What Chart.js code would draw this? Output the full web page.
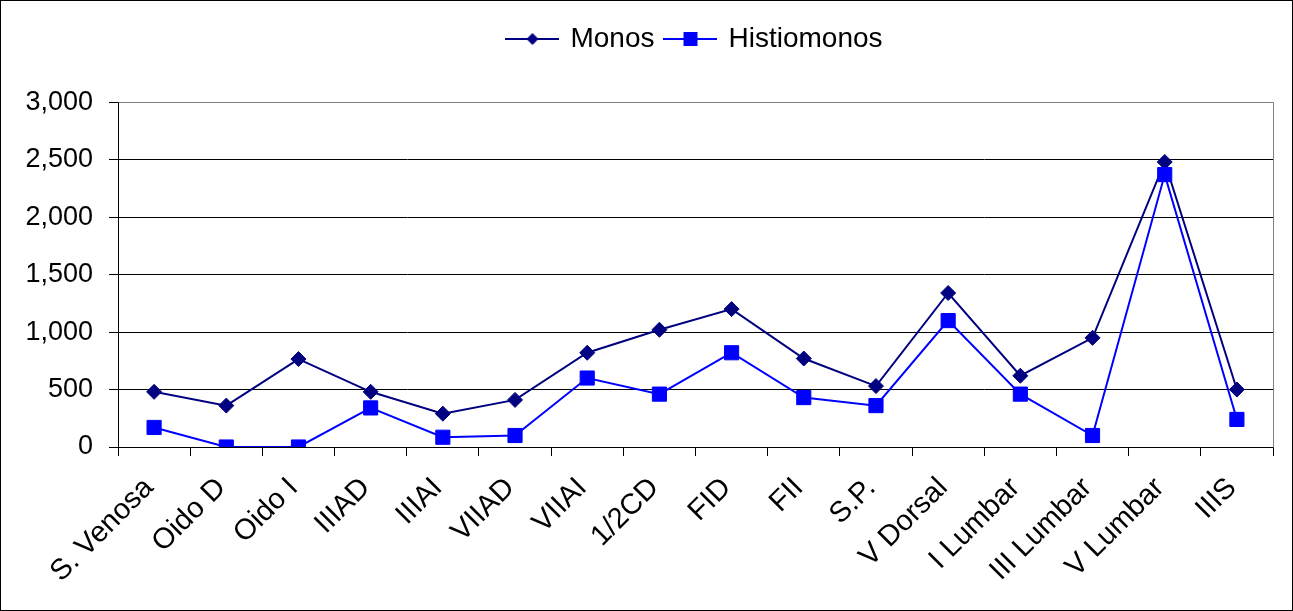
<!DOCTYPE html>
<html>
<head>
<meta charset="utf-8">
<title>Monos / Histiomonos</title>
<script src="https://cdn.jsdelivr.net/npm/chart.js@4.4.1/dist/chart.umd.min.js"></script>
<style>
  html, body { margin: 0; padding: 0; background: #fff; }
  canvas { display: block; }
</style>
</head>
<body>
<canvas id="chart" width="1293" height="611"></canvas>
<script>
/* Monos vs Histiomonos por localización */

const categories = [
  'S. Venosa', 'Oido D', 'Oido I', 'IIIAD', 'IIIAI', 'VIIAD', 'VIIAI', '1/2CD',
  'FID', 'FII', 'S.P.', 'V Dorsal', 'I Lumbar', 'III Lumbar', 'V Lumbar', 'IIIS',
];
const monos = [480, 360, 765, 480, 290, 410, 820, 1020, 1200, 770, 530, 1340, 620, 950, 2480, 500];
const histiomonos = [170, 0, 0, 340, 85, 100, 600, 460, 820, 430, 360, 1100, 460, 100, 2370, 240];
const yTicks = [0, 500, 1000, 1500, 2000, 2500, 3000];

const FONT = "'Liberation Sans', Arial, sans-serif";
const NAVY = '#000080';
const BLUE = '#0000FF';

// legend swatch: short line with the marker in the middle
function legendSwatch(color, shape) {
  const c = document.createElement('canvas');
  c.width = 54;
  c.height = 16;
  const g = c.getContext('2d');
  g.strokeStyle = color;
  g.fillStyle = color;
  g.lineWidth = 2;
  g.beginPath();
  g.moveTo(0, 8);
  g.lineTo(54, 8);
  g.stroke();
  g.beginPath();
  if (shape === 'diamond') {
    g.moveTo(27, 2); g.lineTo(33, 8); g.lineTo(27, 14); g.lineTo(21, 8);
  } else {
    g.rect(20, 1, 14, 14);
  }
  g.closePath();
  g.fill();
  return c;
}

const swatches = [legendSwatch(NAVY, 'diamond'), legendSwatch(BLUE, 'square')];

const framePlugin = {
  id: 'frame',
  beforeDatasetsDraw(chart) {
    const { ctx, chartArea: a } = chart;
    ctx.save();
    ctx.strokeStyle = '#808080';
    ctx.lineWidth = 1;
    ctx.beginPath();
    ctx.moveTo(Math.round(a.left) + 0.5, Math.round(a.top) + 0.5);
    ctx.lineTo(Math.round(a.right) + 0.5, Math.round(a.top) + 0.5);
    ctx.lineTo(Math.round(a.right) + 0.5, Math.round(a.bottom) + 0.5);
    ctx.stroke();
    ctx.restore();
  },
  afterDraw(chart) {
    const { ctx, width, height } = chart;
    ctx.save();
    ctx.strokeStyle = '#000';
    ctx.lineWidth = 1;
    ctx.strokeRect(0.5, 0.5, width - 1, height - 1);
    ctx.restore();
  },
};

new Chart(document.getElementById('chart'), {
  type: 'line',
  data: {
    labels: categories,
    datasets: [
      {
        label: 'Monos',
        data: monos,
        borderColor: NAVY,
        backgroundColor: NAVY,
        borderWidth: 2,
        pointStyle: 'rectRot',
        pointRadius: 7.5,
        pointBorderWidth: 1,
        tension: 0,
        order: 1,
      },
      {
        label: 'Histiomonos',
        data: histiomonos,
        borderColor: BLUE,
        backgroundColor: BLUE,
        borderWidth: 2,
        pointStyle: 'rect',
        pointRadius: 10,
        pointBorderWidth: 1,
        tension: 0,
        order: 0,
      },
    ],
  },
  options: {
    responsive: false,
    animation: false,
    events: [],
    layout: { padding: { top: 13, right: 20, bottom: 0, left: 0 } },
    plugins: {
      tooltip: { enabled: false },
      legend: {
        position: 'top',
        fullSize: false,
        weight: 3000,
        labels: {
          font: { family: FONT, size: 28 },
          color: '#000',
          padding: 12,
          usePointStyle: true,
          pointStyleWidth: 48,
          generateLabels(chart) {
            return Chart.defaults.plugins.legend.labels
              .generateLabels(chart)
              .sort((a, b) => a.datasetIndex - b.datasetIndex)
              .map((item) => ({ ...item, pointStyle: swatches[item.datasetIndex] }));
          },
        },
      },
      subtitle: {
        display: true,
        text: ' ',
        weight: 500,
        font: { size: 1 },
        padding: { top: 0, bottom: 38 },
      },
    },
    scales: {
      x: {
        type: 'category',
        offset: true,
        grid: { offset: true, drawOnChartArea: false, drawTicks: true, tickLength: 9, color: '#000' },
        border: { color: '#000', width: 1 },
        ticks: {
          font: { family: FONT, size: 29 },
          color: '#000',
          minRotation: 45,
          maxRotation: 45,
          autoSkip: false,
          padding: 15,
          labelOffset: -5,
        },
        afterFit(scale) { scale.height = 164; },
      },
      y: {
        min: 0,
        max: 3000,
        afterBuildTicks(scale) { scale.ticks = yTicks.map((v) => ({ value: v })); },
        grid: { color: '#000', lineWidth: 1, tickLength: 9 },
        border: { color: '#000', width: 1 },
        ticks: {
          font: { family: FONT, size: 27 },
          color: '#000',
          padding: 16,
          callback: (v) => Number(v).toLocaleString('en-US'),
        },
        afterFit(scale) { scale.width = 118; },
      },
    },
  },
  plugins: [framePlugin],
});
</script>
</body>
</html>
